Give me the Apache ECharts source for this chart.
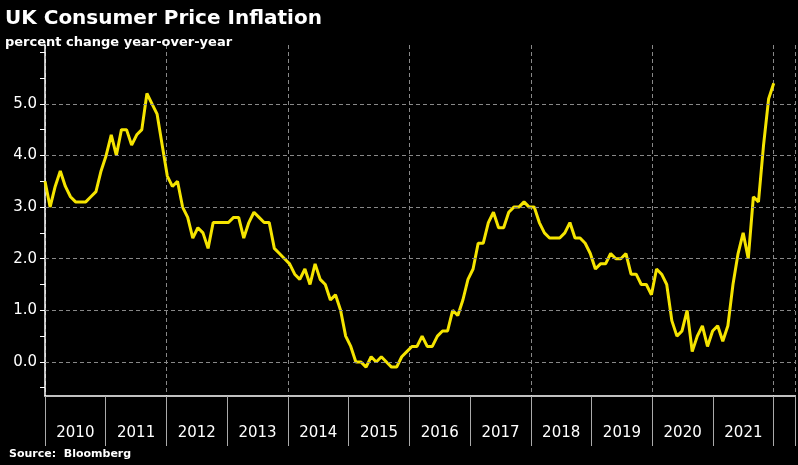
<!DOCTYPE html><html><head><meta charset="utf-8"><script src="https://cdn.jsdelivr.net/npm/echarts@6/dist/echarts.min.js"></script>
<style>html,body{margin:0;background:#000}#c{width:798px;height:465px}</style></head><body><div id="c"></div><script>
const years=['2010','2011','2012','2013','2014','2015','2016','2017','2018','2019','2020','2021'];
const cpi=[3.5,3.0,3.4,3.7,3.4,3.2,3.1,3.1,3.1,3.2,3.3,3.7,
4.0,4.4,4.0,4.5,4.5,4.2,4.4,4.5,5.2,5.0,4.8,4.2,
3.6,3.4,3.5,3.0,2.8,2.4,2.6,2.5,2.2,2.7,2.7,2.7,
2.7,2.8,2.8,2.4,2.7,2.9,2.8,2.7,2.7,2.2,2.1,2.0,
1.9,1.7,1.6,1.8,1.5,1.9,1.6,1.5,1.2,1.3,1.0,0.5,
0.3,0.0,0.0,-0.1,0.1,0.0,0.1,0.0,-0.1,-0.1,0.1,0.2,
0.3,0.3,0.5,0.3,0.3,0.5,0.6,0.6,1.0,0.9,1.2,1.6,
1.8,2.3,2.3,2.7,2.9,2.6,2.6,2.9,3.0,3.0,3.1,3.0,
3.0,2.7,2.5,2.4,2.4,2.4,2.5,2.7,2.4,2.4,2.3,2.1,
1.8,1.9,1.9,2.1,2.0,2.0,2.1,1.7,1.7,1.5,1.5,1.3,
1.8,1.7,1.5,0.8,0.5,0.6,1.0,0.2,0.5,0.7,0.3,0.6,
0.7,0.4,0.7,1.5,2.1,2.5,2.0,3.2,3.1,4.2,5.1,5.4];
const yLabels=[0,1,2,3,4,5];
const yTicks=[-0.5,0,0.5,1,1.5,2,2.5,3,3.5,4,4.5,5,5.5,6];
const pts=cpi.map((v,i)=>[i*144/143,v]);
const XMAX=148.2;
const chart=echarts.init(document.getElementById('c'));
const white='#fff';
chart.setOption({
backgroundColor:'#000',animation:false,
title:[{text:'UK Consumer Price Inflation',left:0,top:4,textStyle:{color:white,fontSize:20,fontWeight:'bold',fontFamily:'DejaVu Sans'}},
{text:'percent change year-over-year',left:0,top:31,textStyle:{color:white,fontSize:13,fontWeight:'bold',fontFamily:'DejaVu Sans'}},
{text:'Source:  Bloomberg',left:4,top:444,textStyle:{color:white,fontSize:11,fontWeight:'bold',fontFamily:'DejaVu Sans'}}],
grid:{left:45,right:0,top:45,bottom:69},
xAxis:[
{type:'value',min:0,max:XMAX,interval:12,position:'bottom',axisLine:{show:true,onZero:false,lineStyle:{color:white,width:1.5}},
 axisTick:{show:true,inside:false,length:50,lineStyle:{color:'#aaa'}},axisLabel:{show:false},splitLine:{show:false}},
{type:'value',min:0,max:XMAX,interval:6,position:'bottom',axisLine:{show:false,onZero:false},axisTick:{show:false},
 axisLabel:{color:white,fontSize:15,fontFamily:'DejaVu Sans',margin:30,formatter:v=>(v%12===6?years[(v-6)/12]||'':'')},splitLine:{show:false}},
{type:'value',min:0,max:XMAX,interval:24,position:'bottom',axisLine:{show:false,onZero:false},axisTick:{show:false},axisLabel:{show:false},
 splitLine:{show:true,lineStyle:{color:'#888',type:[4,3],width:1}}}
],
yAxis:{type:'value',min:-0.66,max:6.14,axisLine:{show:true,onZero:false,lineStyle:{color:white,width:1.5}},
 axisTick:{show:true,length:5,customValues:yTicks,lineStyle:{color:white}},
 axisLabel:{color:white,fontSize:15,fontFamily:'DejaVu Sans',margin:8,customValues:yLabels,formatter:v=>v.toFixed(1)},
 splitLine:{show:false}},
series:[{type:'line',data:pts,showSymbol:false,lineStyle:{color:'#f5e400',width:3},
 markLine:{silent:true,symbol:'none',label:{show:false},lineStyle:{color:'#888',type:[4,3],width:1},data:yLabels.map(v=>({yAxis:v}))}}]
});
</script></body></html>
